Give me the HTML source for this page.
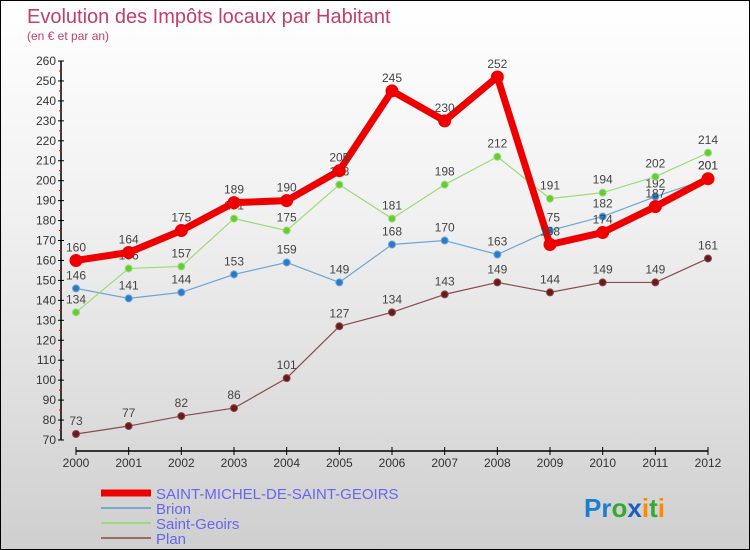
<!DOCTYPE html>
<html><head><meta charset="utf-8"><style>
body{margin:0}
#c{width:748px;height:548px;border:1px solid #000;background:linear-gradient(#fff,#f0f0f0 40%,#cfcfcf);position:relative;overflow:hidden;font-family:"Liberation Sans",sans-serif}
</style></head><body>
<div id="c">
<svg id="s" width="748" height="548">
<text x="26" y="22" font-size="20" fill="#c0406a">Evolution des Impôts locaux par Habitant</text>
<text x="26" y="39" font-size="12" fill="#c0406a">(en € et par an)</text>
<g id="ax"></g><g id="ser"></g>
<g>
<line x1="100" y1="492" x2="150" y2="492" stroke="#e00" stroke-width="7"/>
<text x="155" y="498" font-size="15" fill="#6666ee">SAINT-MICHEL-DE-SAINT-GEOIRS</text>
<line x1="100" y1="507" x2="150" y2="507" stroke="#7aa8d0" stroke-width="2"/>
<text x="155" y="513" font-size="15" fill="#6666ee">Brion</text>
<line x1="100" y1="522" x2="150" y2="522" stroke="#99dd77" stroke-width="2"/>
<text x="155" y="528" font-size="15" fill="#6666ee">Saint-Geoirs</text>
<line x1="100" y1="537" x2="150" y2="537" stroke="#9a6a6a" stroke-width="2"/>
<text x="155" y="543" font-size="15" fill="#6666ee">Plan</text>
</g>
<g font-size="26" font-weight="bold">
<text x="583" y="516"><tspan fill="#1a7fd0">Pr</tspan><tspan fill="#33aa33">o</tspan><tspan fill="#1a5fc0">x</tspan><tspan fill="#ff8800">i</tspan><tspan fill="#33aa33">t</tspan><tspan fill="#ff8800">i</tspan></text>
</g>
</svg>
</div>
<script>
const years=[2000,2001,2002,2003,2004,2005,2006,2007,2008,2009,2010,2011,2012];
const yTicks=[70,80,90,100,110,120,130,140,150,160,170,180,190,200,210,220,230,240,250,260];
const plan=[73,77,82,86,101,127,134,143,149,144,149,149,161];
const brion=[146,141,144,153,159,149,168,170,163,175,182,192,201];
const geoirs=[134,156,157,181,175,198,181,198,212,191,194,202,214];
const stmichel=[160,164,175,189,190,205,245,230,252,168,174,187,201];
const NS="http://www.w3.org/2000/svg";
const X=i=>75+i*(632/12);
const Y=v=>439-(v-70)*(379/190);
function mk(t,a,p){const e=document.createElementNS(NS,t);for(const k in a)e.setAttribute(k,a[k]);p.appendChild(e);return e;}
const ax=document.getElementById('ax');
let yl=mk('line',{x1:60,y1:Y(260),x2:60,y2:Y(70),stroke:'#000','stroke-width':1.5},ax);


yTicks.forEach(v=>{
 mk('line',{x1:57,y1:Y(v),x2:63,y2:Y(v),stroke:'#000'},ax);
 if(v<260) mk('line',{x1:58,y1:Y(v+5),x2:61,y2:Y(v+5),stroke:'#e00'},ax);
 const t=mk('text',{x:55,y:Y(v)+4,'text-anchor':'end','font-size':12,fill:'#333'},ax);t.textContent=v;
 
 
});
let xl=mk('line',{x1:X(0),y1:450,x2:X(12),y2:450,stroke:'#000','stroke-width':1.5},ax);


years.forEach((y,i)=>{
 mk('line',{x1:X(i),y1:446,x2:X(i),y2:454,stroke:'#000'},ax);
 const t=mk('text',{x:X(i),y:466,'text-anchor':'middle','font-size':12,fill:'#333'},ax);t.textContent=y;
 
 
});
const ser=document.getElementById('ser');
function series(d,name,col,w,r,dot){
 const g=mk('g',{},ser);
 
 
 mk('polyline',{points:d.map((v,i)=>X(i)+','+Y(v)).join(' '),fill:'none',stroke:col,'stroke-width':w,'stroke-linejoin':'round'},g);
 d.forEach((v,i)=>{
  const c=mk('circle',{cx:X(i),cy:Y(v),r:r,fill:dot,stroke:col,'stroke-width':1},g);
  
  
  const t=mk('text',{x:X(i),y:Y(v)-9,'text-anchor':'middle','font-size':12,fill:'#444'},g);t.textContent=v;
  
  
 });
}
series(plan,'series-plan','#8a4a4a',1.2,3.5,'#6a1a1a');
series(brion,'series-brion','#6aa6d6',1.2,3.5,'#2a7ac8');
series(geoirs,'series-saint-geoirs','#99dd77',1.2,3.5,'#66cc33');
series(stmichel,'series-saint-michel','#ee0000',7,6,'#ee0000');
</script>
</body></html>
